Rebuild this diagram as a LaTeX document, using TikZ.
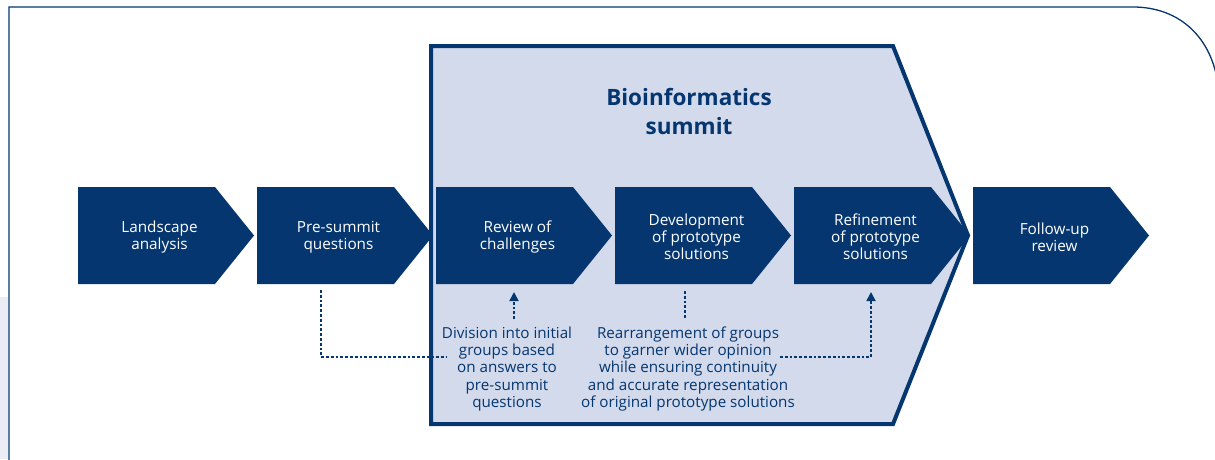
\documentclass[tikz,border=0pt]{standalone}
\usepackage{fontspec}
\setmainfont{Open Sans}
\usetikzlibrary{arrows.meta,calc}
\definecolor{navy}{HTML}{05366F}
\definecolor{summitfill}{HTML}{D3DAEC}
\definecolor{sideshade}{HTML}{EBEDF5}

% one process step: an invisible body node plus a filled chevron outline
\newcommand\stepchevron[3]{%
  \node[body, anchor=west] (#1) at (#2,235.5) {};
  \fill[navy] (#1.north west) -- (#1.north east) -- ++(39,48.5)
    -- (#1.south east) -- (#1.south west) -- cycle;
  \node[steplabel] (#1-text) at ([shift={(13pt,1.5)}]#1.center) {#3};
}

\begin{document}
\begin{tikzpicture}[x=1pt,y=-1pt,
  body/.style={minimum width=137pt, minimum height=97pt, inner sep=0pt, outer sep=0pt},
  steplabel/.style={text=white, align=center, inner sep=0pt,
    font=\fontsize{15.3}{16.8}\selectfont},
  note/.style={text=navy, align=center, inner sep=0pt,
    font=\fontsize{15.2}{17.4}\selectfont},
  dotline/.style={draw=navy, line width=1.8pt, dash pattern=on 2.8pt off 2pt},
  tipto/.style={-{Triangle[length=9pt,width=9pt]}},
]
\useasboundingbox (0,0) rectangle (1215,459);

% page frame with rounded upper right corner
\fill[sideshade] (0,297) rectangle (8,459);
\draw[navy, line width=1.3pt] (9,465) -- (9,7) -- (1133,7)
  .. controls (1180,7) and (1212,38) .. (1218,85);

% summit block
\draw[navy, line width=4pt, fill=summitfill, line join=miter]
  (431,46) -- (893,46) -- (968,235.5) -- (893,424) -- (431,424) -- cycle;
\node[text=navy, align=center, inner sep=0pt,
  font=\fontsize{22.5}{29}\selectfont\bfseries] (title) at (689,111)
  {Bioinformatics\\summit};

% process steps
\stepchevron{land}{78}{Landscape\\analysis}
\stepchevron{pre}{257}{Pre-summit\\questions}
\stepchevron{review}{436}{Review of\\challenges}
\stepchevron{dev}{615}{Development\\of prototype\\solutions}
\stepchevron{refine}{794}{Refinement\\of prototype\\solutions}
\stepchevron{follow}{973}{Follow-up\\review}

% group notes
\node[note] (divnote) at (507,369)
  {Division into initial\\groups based\\on answers to\\pre-summit\\questions};
\node[note] (regroup) at (688,369)
  {Rearrangement of groups\\to garner wider opinion\\while ensuring continuity\\and accurate representation\\of original prototype solutions};

% dotted links
\coordinate (divend) at (447,357);
\draw[dotline] ([shift={(-4.5,6)}]pre.south) |- (divend);
\coordinate (divup) at (514,319);
\coordinate (divtip) at (514,292);
\draw[dotline, tipto] (divup) -- (divtip);
\draw[dotline] ([shift={(1.5,7)}]dev.south) -- ++(0,27);
\coordinate (regend) at (780,357);
\coordinate (refup) at (871,292);
\draw[dotline, tipto] (regend) -| (refup);
\end{tikzpicture}
\end{document}
